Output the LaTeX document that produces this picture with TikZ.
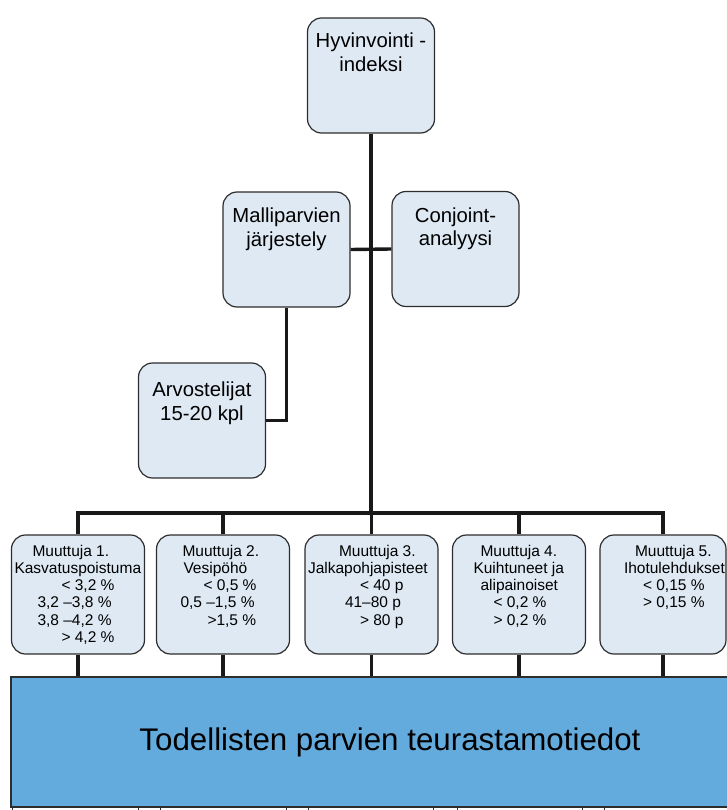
\documentclass[tikz,border=0pt]{standalone}
\usepackage{fontspec}
\setmainfont{Liberation Sans}
\usepackage{tikz}

\definecolor{boxfill}{RGB}{222,233,243}
\definecolor{boxline}{RGB}{45,45,45}
\definecolor{datafill}{RGB}{100,171,221}

\newcommand{\upperbox}[2][16pt]{\parbox[c][115pt][t]{127pt}{\centering\fontsize{20.3}{23.5}\selectfont\vspace*{#1}#2}}
\newcommand{\varbox}[2][133pt]{\parbox[c][119pt][t]{#1}{\raggedright\fontsize{15.5}{17.2}\selectfont\vspace*{10pt}#2}}

\begin{document}
\begin{tikzpicture}[x=1pt, y=-1pt]
\tikzstyle{unit}=[draw=boxline, fill=boxfill, line width=1.2pt, rounded corners=14pt, inner sep=0pt]
\tikzstyle{datastore}=[draw=boxline, fill=datafill, line width=1.5pt, inner sep=0pt, minimum width=758pt, minimum height=130pt, font=\fontsize{31.3}{36}\selectfont]
\tikzstyle{link}=[line width=3.4pt, color=black!90]
\useasboundingbox (0,0) rectangle (727,810);
\clip (0,0) rectangle (727,810);

\node [unit] (hyv) at (371,75.5) {\upperbox[15pt]{Hyvinvointi -\\indeksi}};
\node [unit] (malli) at (286.5,249.5) {\upperbox{Malliparvien\\järjestely}};
\node [unit] (conj) at (455.5,249) {\upperbox{Conjoint-\\analyysi}};
\node [unit] (arvo) at (202,420.5) {\upperbox[19pt]{Arvostelijat\\15-20 kpl}};

\node [unit] (m1) at (78,594.5) {\varbox{\hspace*{21pt}Muuttuja 1.\\\hspace*{3pt}Kasvatuspoistuma\\\hspace*{50pt}< 3,2 \%\\\hspace*{26pt}3,2 –3,8 \%\\\hspace*{26pt}3,8 –4,2 \%\\\hspace*{50pt}> 4,2 \%}};
\node [unit] (m2) at (223,594.5) {\varbox{\hspace*{26pt}Muuttuja 2.\\\hspace*{27pt}Vesipöhö\\\hspace*{47pt}< 0,5 \%\\\hspace*{24pt}0,5 –1,5 \%\\\hspace*{51pt}>1,5 \%}};
\node [unit] (m3) at (371.5,594.5) {\varbox{\hspace*{34pt}Muuttuja 3.\\\hspace*{3pt}Jalkapohjapisteet\\\hspace*{55pt}< 40 p\\\hspace*{40pt}41–80 p\\\hspace*{55pt}> 80 p}};
\node [unit] (m4) at (519,594.5) {\varbox{\hspace*{28pt}Muuttuja 4.\\\hspace*{21pt}Kuihtuneet ja\\\hspace*{28pt}alipainoiset\\\hspace*{41pt}< 0,2 \%\\\hspace*{41pt}> 0,2 \%}};
\node [unit] (m5) at (663,594.5) {\varbox[126pt]{\hspace*{35pt}Muuttuja 5.\\\hspace*{24pt}Ihotulehdukset\\\hspace*{43pt}< 0,15 \%\\\hspace*{43pt}> 0,15 \%}};

\node [datastore] (data) at (390,742) {Todellisten parvien teurastamotiedot};

\coordinate (trunk) at (371,513);
\draw [link] (hyv.south) -- (trunk);
\draw [link] (malli.east) -- (conj.west);
\draw [link] (malli.south) |- (arvo.east);
\draw [link] (m1.north) |- (m5.north |- trunk) -- (m5.north);
\foreach \i in {2,3,4}
  \draw [link] (m\i.north) -- (m\i.north |- trunk);
\foreach \i in {1,...,5}
  \draw [link] (m\i.south) -- (m\i.south |- data.north);
\foreach \x in {12,138,160,286,308,433,457,582,604}
  \draw [boxline, line width=1pt] (\x,808) -- (\x,810);
\end{tikzpicture}
\end{document}
